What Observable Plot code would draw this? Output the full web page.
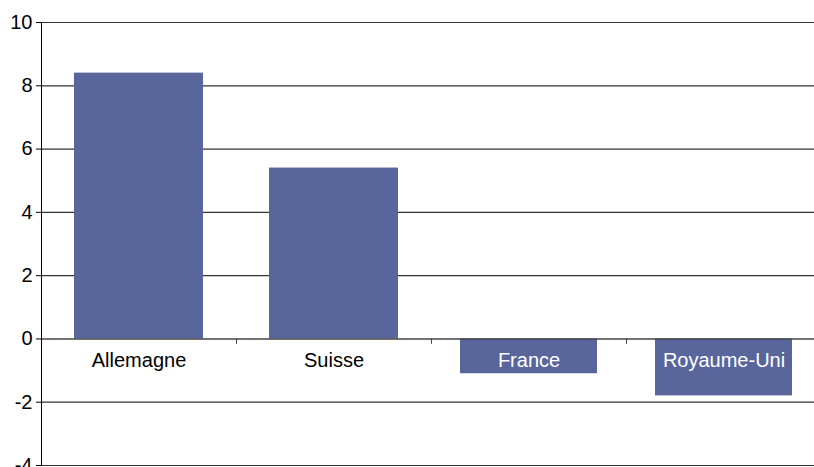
<!DOCTYPE html>
<html>
<head>
<meta charset="utf-8">
<script src="https://cdn.jsdelivr.net/npm/d3@7"></script>
<script src="https://cdn.jsdelivr.net/npm/@observablehq/plot@0.6"></script>
<style>
  html, body { margin: 0; padding: 0; background: #fff; }
  svg { display: block; }
</style>
</head>
<body>
<div id="chart"></div>
<script>
// Categories and their values
const countries = ["Allemagne", "Suisse", "France", "Royaume-Uni"];
const values = [8.4, 5.4, -1.1, -1.8];
const yTicks = [-4, -2, 0, 2, 4, 6, 8, 10];

const data = countries.map((country, i) => ({country, value: values[i]}));

const width = 814;
const height = 467;
const marginLeft = 41;
const marginRight = -7; // the last category band runs past the right edge
const step = (width - marginLeft - marginRight) / countries.length;

const font = "'Liberation Sans', Arial, Helvetica, sans-serif";
const barColor = "#59669B";

const chart = Plot.plot({
  width,
  height,
  marginLeft,
  marginRight,
  marginTop: 22,
  marginBottom: 2,
  style: {fontFamily: font, fontSize: "20px", color: "#000", background: "#fff"},
  x: {domain: countries, paddingInner: 0.34, paddingOuter: 0.17, axis: null},
  y: {domain: [-4, 10], ticks: yTicks},
  marks: [
    // horizontal gridlines
    Plot.ruleY(yTicks.filter(d => d !== 0), {stroke: "#333", strokeWidth: 1.2}),
    // positive bars, and slightly wider negative bars
    Plot.barY(data.filter(d => d.value >= 0), {x: "country", y: "value", fill: barColor}),
    Plot.barY(data.filter(d => d.value < 0), {x: "country", y: "value", fill: barColor, insetLeft: -4, insetRight: -4}),
    // zero baseline with ticks at category boundaries
    Plot.ruleY([0], {stroke: "#444", strokeWidth: 1.4}),
    Plot.ruleX(countries.slice(1), {x: d => d, dx: -step / 2, y1: 0, y2: -0.17, stroke: "#444"}),
    // vertical axis
    Plot.frame({anchor: "left", stroke: "#000"}),
    Plot.axisY({
      ticks: yTicks,
      tickFormat: d => String(d),
      tickSize: 5,
      tickPadding: 4,
      fontSize: 20,
      label: null,
      stroke: "#000"
    }),
    // category names just below the baseline
    Plot.text(data, {
      x: "country",
      y: 0,
      dy: 22,
      text: "country",
      fontSize: 20,
      fill: d => d.value < 0 ? "#fff" : "#000"
    })
  ]
});

document.getElementById("chart").append(chart);
</script>
</body>
</html>
